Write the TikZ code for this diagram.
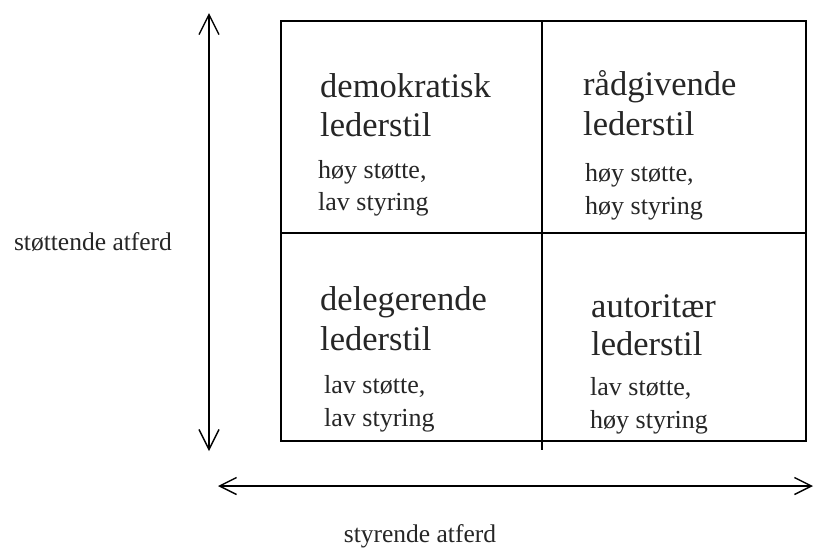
\documentclass[tikz,border=0pt]{standalone}
\usepackage{fontspec}
\setmainfont{Liberation Serif}
\usetikzlibrary{arrows.meta}
\tikzset{
  grid line/.style={line width=1.6pt, black},
  axis/.style={line width=1.4pt, black},
  title/.style={anchor=base west, inner sep=0pt, font=\fontsize{34.5}{40}\selectfont, text=black!85},
  desc/.style={anchor=base west, inner sep=0pt, font=\fontsize{26}{32}\selectfont, text=black!85},
  axislabel/.style={anchor=base, inner sep=0pt, font=\fontsize{25.5}{32}\selectfont, text=black!85},
  barbv/.style={-{Straight Barb[length=20pt,width=20pt,line width=1.4pt]}},
  barbh/.style={-{Straight Barb[length=17pt,width=17pt,line width=1.4pt]}}
}
\begin{document}
\begin{tikzpicture}[x=1pt,y=-1pt]
\useasboundingbox[fill=white] (0,0) rectangle (815,550);

% corners of the 2x2 grid
\coordinate (nw) at (281,21);
\coordinate (se) at (806,441);
\coordinate (mt) at (542,21);
\coordinate (mb) at (542,450);
\coordinate (ml) at (281,233);
\coordinate (mr) at (806,233);

\draw[grid line] (nw) rectangle (se);
\draw[grid line] (mt) -- (mb);
\draw[grid line] (ml) -- (mr);

% vertical axis: supporting behaviour
\coordinate (vtop) at (209,13);
\coordinate (vbot) at (209,451);
\coordinate (vmid) at (209,232);
\draw[axis, barbv] (vmid) -- (vtop);
\draw[axis, barbv] (vmid) -- (vbot);

% horizontal axis: directing behaviour
\coordinate (hleft) at (218,486);
\coordinate (hright) at (813,486);
\coordinate (hmid) at (515,486);
\draw[axis, barbh] (hmid) -- (hleft);
\draw[axis, barbh] (hmid) -- (hright);

\node[axislabel] (ylab) at (93,250) {støttende atferd};
\node[axislabel] (xlab) at (420,542) {styrende atferd};

% top left quadrant
\node[title] (q1a) at (320,97) {demokratisk};
\node[title] (q1b) at (320,136) {lederstil};
\node[desc]  (q1c) at (318,178) {høy støtte,};
\node[desc]  (q1d) at (318,210) {lav styring};

% top right quadrant
\node[title] (q2a) at (583,95) {rådgivende};
\node[title] (q2b) at (583,135) {lederstil};
\node[desc]  (q2c) at (585,181) {høy støtte,};
\node[desc]  (q2d) at (585,214) {høy styring};

% bottom left quadrant
\node[title] (q3a) at (320,310) {delegerende};
\node[title] (q3b) at (320,350) {lederstil};
\node[desc]  (q3c) at (324,393) {lav støtte,};
\node[desc]  (q3d) at (324,426) {lav styring};

% bottom right quadrant
\node[title] (q4a) at (591,317) {autoritær};
\node[title] (q4b) at (591,355) {lederstil};
\node[desc]  (q4c) at (590,395) {lav støtte,};
\node[desc]  (q4d) at (590,428) {høy styring};
\end{tikzpicture}
\end{document}
